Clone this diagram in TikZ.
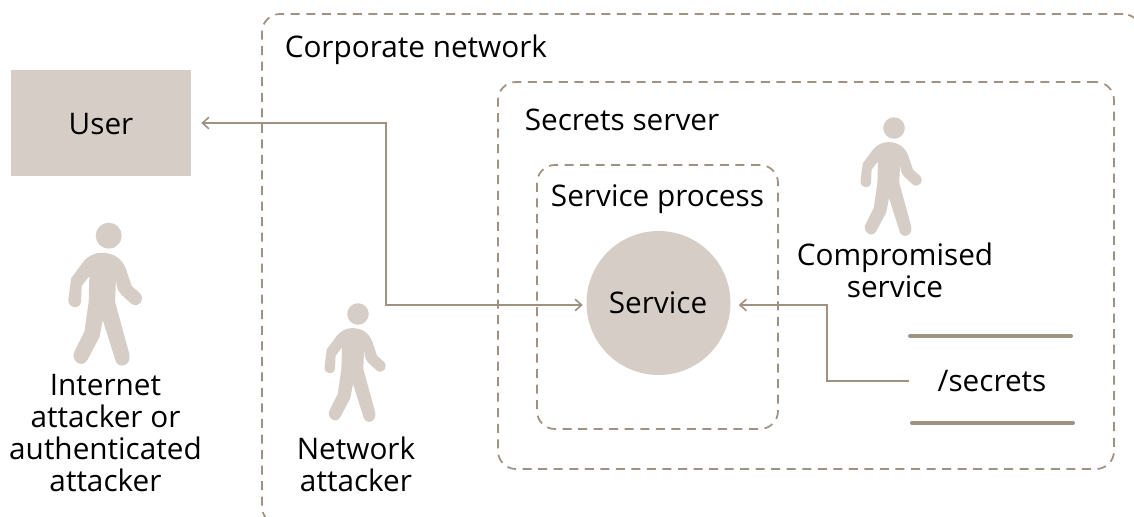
\documentclass[tikz,border=0pt]{standalone}
\usepackage{fontspec}
\setmainfont{Open Sans}
\usetikzlibrary{arrows.meta}
\definecolor{sand}{HTML}{D6CEC6}
\definecolor{taupe}{HTML}{A09283}
\tikzset{
  x=0.75pt,y=-0.75pt,
  barb/.tip={Straight Barb[length=4.8pt,width=8.6pt,line width=1.2pt]},
  zone/.style={draw=taupe,line width=1.3pt,dash pattern=on 6.75pt off 4.9pt,rounded corners=13.5pt,inner sep=0pt,outer sep=0pt,anchor=north west},
  lbl/.style={font=\fontsize{22.3}{23.8}\selectfont,text=black,align=center,inner sep=0pt},
  link/.style={draw=taupe,line width=1.3pt},
  shelf/.style={draw=taupe,line width=3pt,line cap=round},
  pics/walker/.style={code={
    \fill[sand] (0,0) circle[radius=13];
    \begin{scope}[shift={(-68.67,-25.67)},scale=1/3]
    \fill[sand] (185,128) .. controls (225,128) and (252,150) .. (262,190)
      -- (275,228) -- (300,250) .. controls (316,268) and (298,295) .. (275,282)
      -- (245,255) .. controls (238,248) and (233,240) .. (230,225) -- (228,207)
      -- (225,275) -- (268,432) .. controls (276,470) and (232,478) .. (226,450)
      -- (188,330) -- (178,382) -- (142,450) .. controls (125,478) and (90,450) .. (103,425)
      -- (133,365) -- (146,275) -- (148,198) -- (125,228) -- (123,275)
      .. controls (120,300) and (82,295) .. (85,268) -- (93,205) -- (130,155)
      .. controls (145,137) and (165,128) .. (185,128) -- cycle;
    \end{scope}
  }},
}
\begin{document}
\begin{tikzpicture}
\useasboundingbox (0,0) rectangle (1134,517);
\clip (0,0) rectangle (1134,517);
% zones
\node[zone,minimum width=659.25pt,minimum height=383pt] (corp) at (262,14) {};
\node[zone,minimum width=462pt,minimum height=290.25pt] (secsrv) at (498,82) {};
\node[zone,minimum width=180.75pt,minimum height=198pt] (proc) at (537,165) {};
% main boxes
\node[fill=sand,minimum width=135pt,minimum height=79.5pt,inner sep=0pt] (user) at (101,123) {};
\node[lbl] at (101,124.5) {User};
\node[circle,fill=sand,minimum size=108pt,inner sep=0pt] (svc) at (658.5,303) {};
\node[lbl] at (658,303) {Service};
% labels
\node[lbl,anchor=west] (l1) at (284.5,50) {Corporate network};
\node[lbl,anchor=west] (l2) at (524.5,120) {Secrets server};
\node[lbl,anchor=center] (l3) at (657.5,199) {Service process};
% figures
\pic[scale=1] at (108.7,235.7) {walker};
\pic[scale=.83] at (358,314) {walker};
\pic[scale=.83] at (894,128) {walker};
\node[lbl] (a1) at (105.5,433) {Internet\\attacker or\\authenticated\\attacker};
\node[lbl] (a2) at (356,464.5) {Network\\attacker};
\node[lbl] (a3) at (895,270.5) {Compromised\\service};
% store
\node[lbl,minimum width=123.75pt] (store) at (992,381) {/secrets};
\draw[shelf] (910,336) -- (1071,336);
\draw[shelf] (912,423) -- (1073,423);
% connectors
\coordinate (bendA) at (386,200);
\coordinate (bendB) at (827,340);
\draw[link,{barb}-{barb},shorten <=7.5pt,shorten >=2.6pt] (user.east) -| (bendA) |- ([yshift=-1.5pt]svc.west);
\draw[link,-{barb},shorten >=6pt] (store.west) -| (bendB) |- ([yshift=-1.5pt]svc.east);
\end{tikzpicture}
\end{document}
